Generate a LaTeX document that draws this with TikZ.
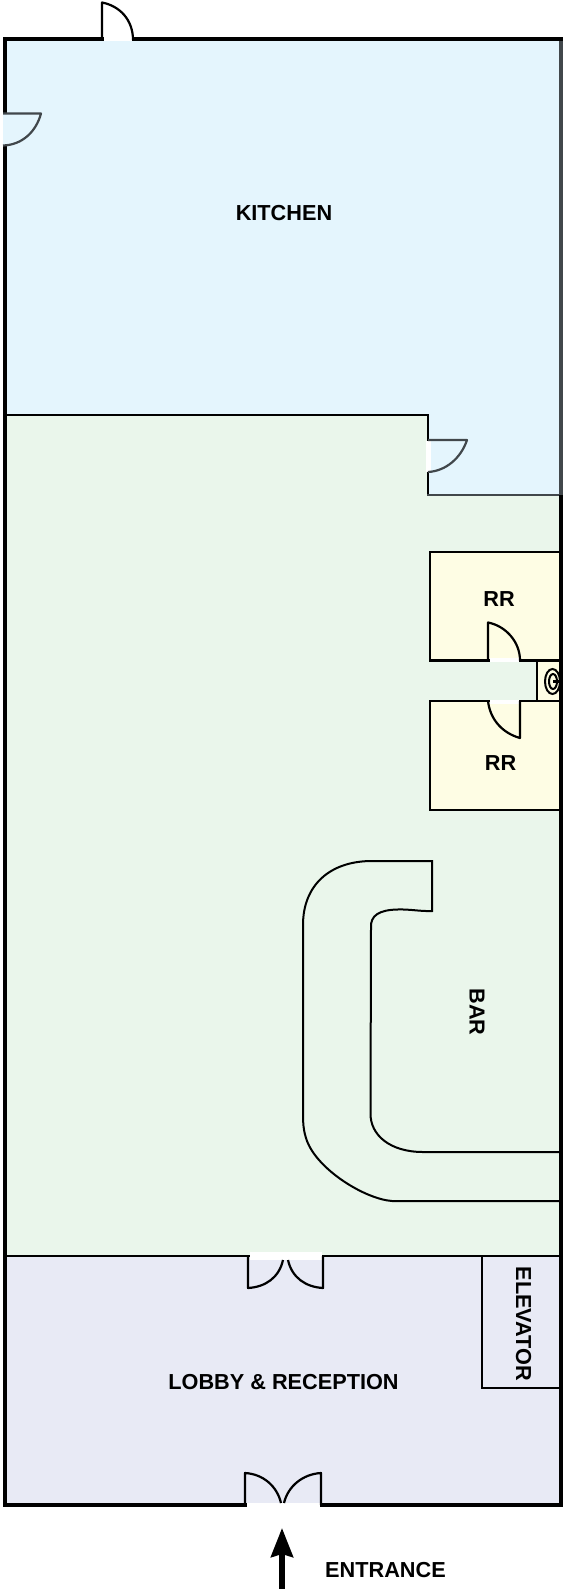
\documentclass[tikz,border=0pt]{standalone}
\usepackage{fontspec}
\setmainfont{Liberation Sans}
\usetikzlibrary{arrows.meta}
\definecolor{kitchenfill}{HTML}{E4F5FD}
\definecolor{barfill}{HTML}{EAF6EB}
\definecolor{lobbyfill}{HTML}{E8EAF5}
\definecolor{rrfill}{HTML}{FEFDE4}
\definecolor{greyline}{HTML}{41474B}
\tikzset{
  wall/.style={draw=black,line width=3.6pt,line join=miter},
  thinwall/.style={draw=black,line width=2.3pt,line join=miter},
  doorline/.style={draw=black,line width=2.2pt,line join=round},
  greydoor/.style={draw=greyline,line width=2.2pt,line join=round},
  lbl/.style={font=\fontsize{21.7}{25}\selectfont\bfseries,inner sep=0pt},
  gap/.style={fill=white,draw=none}
}
\begin{document}
\begin{tikzpicture}[x=1pt,y=-1pt]
\useasboundingbox (0,0) rectangle (563,1589);
% rooms
\fill[kitchenfill] (5,39) -- (561,39) -- (561,495) -- (428,495) -- (428,415) -- (5,415) -- cycle;
\fill[barfill] (5,415) -- (428,415) -- (428,495) -- (561,495) -- (561,1256) -- (5,1256) -- cycle;
\fill[lobbyfill] (5,1256) rectangle (561,1505);
% restrooms
\filldraw[fill=rrfill,thinwall] (561,552) -- (430,552) -- (430,660.5) -- (561,660.5);
\filldraw[fill=rrfill,thinwall] (561,701) -- (430,701) -- (430,810) -- (561,810);
\fill[rrfill] (537,660.5) rectangle (561,701);
\draw[thinwall] (430,660.5) -- (561,660.5);
\draw[thinwall] (430,701) -- (561,701);
\draw[thinwall] (537,660.5) -- (537,701);
% outer walls
\draw[greydoor,line width=3.2pt] (561,39) -- (561,495);
\draw[wall] (4.8,1505) -- (4.8,39) -- (562.6,39);
\draw[wall] (561,495) -- (561,1505);
\draw[wall,line width=3.1pt] (562.6,1505) -- (3,1505);
\draw[thinwall,line width=2.6pt] (5,415) -- (428,415) -- (428,495);
\draw[greydoor,line width=2.2pt] (427,495) -- (561,495);
\draw[thinwall] (5,1256) -- (561,1256);
% door gaps
\fill[gap] (103.5,36.5) rectangle (132,41);
\fill[gap,fill=kitchenfill] (3,114.5) rectangle (7,145);
\fill[gap] (426,441) rectangle (431,472);
\fill[gap] (490,658) rectangle (519,662);
\fill[gap] (490,700) rectangle (519,704);
\fill[gap] (249.5,1252) rectangle (321.5,1260);
\fill[gap] (247,1503) rectangle (319.5,1507.5);
% doors
\draw[doorline] (102,40) -- (102,2.5) .. controls (120,6) and (133,20) .. (133,40);
\draw[greydoor] (3,113.5) -- (41,113.5) .. controls (36,132) and (22,145) .. (3,145.5);
\draw[greydoor] (428,440) -- (467,440) .. controls (461,458) and (446,471) .. (428,472);
\draw[doorline] (488,660.5) -- (488,622.5) .. controls (506,626) and (520,642) .. (520,660.5);
\draw[doorline] (488,701) .. controls (490,719) and (502,733) .. (520,738) -- (520,701);
\draw[doorline] (248,1256) -- (248,1288) .. controls (265,1287) and (279,1278) .. (283,1260);
\draw[doorline] (323,1256) -- (323,1288) .. controls (306,1287) and (292,1278) .. (288,1260);
\draw[doorline] (245,1505) -- (245,1473) .. controls (263,1474) and (277,1486) .. (281,1503);
\draw[doorline] (321,1505) -- (321,1473) .. controls (303,1474) and (288,1486) .. (284,1503);
% toilet
\draw[black,line width=2pt] (552.5,681.5) ellipse (7.5 and 12.5);
\draw[black,line width=2pt] (553,681.5) ellipse (4 and 7.5);
\draw[black,line width=2.4pt] (553,681.5) -- (561,681.5);
% elevator
\draw[thinwall,line width=2pt] (481.5,1256) -- (481.5,1387.5) -- (561,1387.5);
% bar
\draw[thinwall,line width=2pt] (561,1201) -- (392,1201)
  .. controls (365,1199) and (318,1170) .. (307,1141)
  .. controls (303,1130) and (303,1122) .. (303,1110) -- (303,925)
  .. controls (303,885) and (330,861) .. (372,861) -- (432,861) -- (432,911)
  .. controls (420,911.5) and (410,909) .. (397,909.5)
  .. controls (380,910) and (370,915) .. (371,928) -- (370.5,1113)
  .. controls (370,1135) and (390,1152) .. (423,1152) -- (561,1152);
% right wall over bar ends
\draw[wall] (561,495) -- (561,1505);
% arrow
\coordinate (arrowstart) at (282,1589);
\coordinate (arrowtip) at (282,1528);
\draw[-{Stealth[length=29pt,width=22pt,inset=3pt]},line width=5.5pt,black] (arrowstart) -- (arrowtip);
% labels
\node[lbl] (kitchen) at (284,213) {KITCHEN};
\node[lbl] (rra) at (499,599) {RR};
\node[lbl] (rrb) at (500.5,763) {RR};
\node[lbl,rotate=-90] (bar) at (477,1012) {BAR};
\node[lbl,rotate=-90] (elevator) at (523.5,1324) {ELEVATOR};
\node[lbl] (lobby) at (283.5,1382) {LOBBY \& RECEPTION};
\node[lbl] (entrance) at (385.5,1570) {ENTRANCE};
\end{tikzpicture}
\end{document}
